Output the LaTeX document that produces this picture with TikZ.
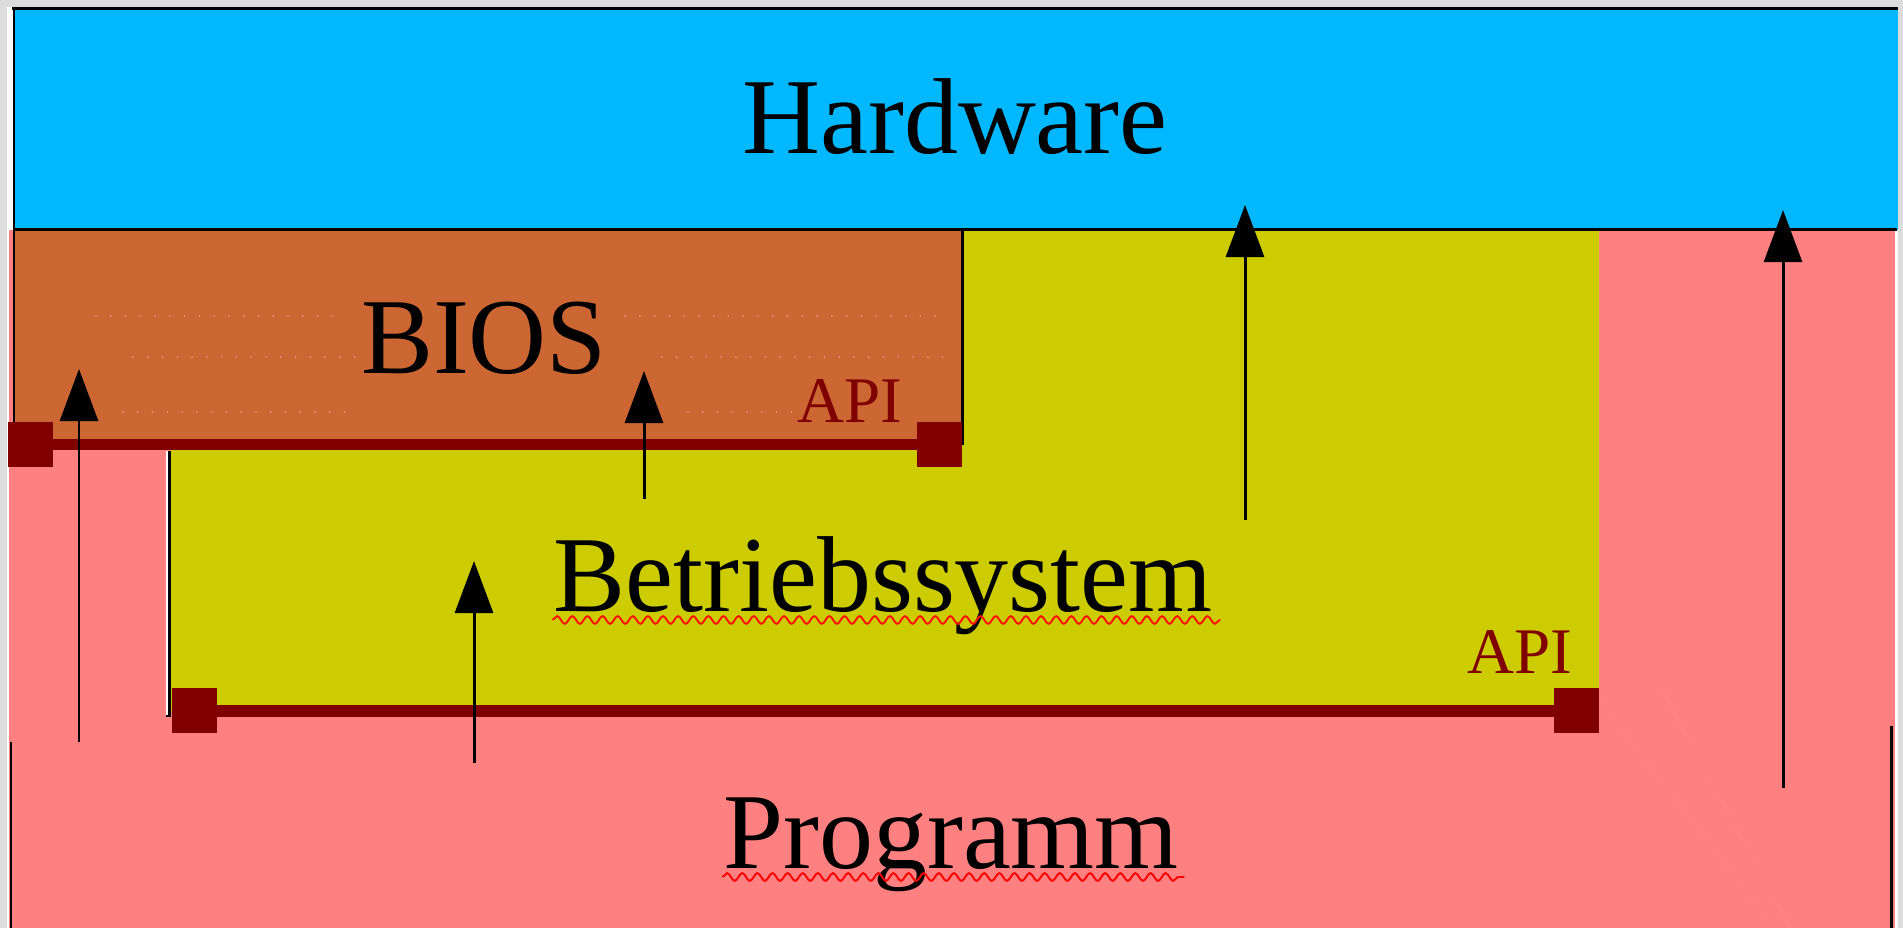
\documentclass[tikz,border=0pt]{standalone}
\usepackage{fontspec}
\setmainfont{Liberation Serif}
\usetikzlibrary{arrows.meta,decorations.pathmorphing}

\definecolor{hwblue}{RGB}{0,184,255}
\definecolor{biosbrown}{RGB}{204,102,51}
\definecolor{osyellow}{RGB}{204,204,0}
\definecolor{progpink}{RGB}{255,128,128}
\definecolor{apired}{RGB}{128,0,0}
\definecolor{framegrey}{RGB}{220,220,220}
\definecolor{dotpink}{RGB}{232,140,130}

\begin{document}
\begin{tikzpicture}[x=0.01cm, y=-0.01cm,
    bigtext/.style={anchor=base, inner sep=0pt, font=\fontsize{30.7}{36}\selectfont},
    apitext/.style={anchor=base, inner sep=0pt, text=apired, font=\fontsize{18.5}{22}\selectfont},
    edge/.style={line width=0.85pt, black},
    apiline/.style={line width=3.4pt, apired},
    callarrow/.style={line width=0.85pt, -{Triangle[length=14.8pt, width=10.8pt]}},
    spell/.style={red, line width=0.55pt, decorate,
      decoration={snake, amplitude=1.1pt, segment length=4.3pt}},
    faint/.style={dotpink, line width=0.6pt, line cap=round, dash pattern=on 0pt off 4.2pt}]
    \useasboundingbox (0,0) rectangle (1903,928);
    \fill[framegrey] (0,0) rectangle (1903,928);
    \fill[white] (7,7) rectangle (1898,928);

    % Schichten
    \fill[progpink] (9,230) rectangle (1895,928);
    \fill[hwblue] (14,9) rectangle (1898,230);
    \fill[osyellow] (170,230) rectangle (1599,711);
    \fill[biosbrown] (14,231) rectangle (962,444);
    \draw[faint] (96,316) -- (345,316) (625,316) -- (938,316);
    \draw[faint] (133,357) -- (355,357) (662,357) -- (950,357);
    \draw[faint] (123,412) -- (355,412) (688,412) -- (797,412);
    \draw[progpink!97!white, line width=0.4pt] (1600,700) -- (1773,928) (1660,686) -- (1790,928);

    \draw[edge] (12,8.5) -- (1898,8.5);
    \draw[edge] (14,8) -- (14,422);
    \draw[edge] (14,230) -- (1897,230);
    \draw[edge] (962,230) -- (962,445);
    \draw[white, line width=0.6pt] (167.5,451) -- (167.5,716);
    \draw[edge] (169.5,451) -- (169.5,716) -- (166,716);
    \draw[edge] (11,742) -- (11,928);
    \draw[edge] (1891,726) -- (1891,928);

    % API-Leisten
    \draw[apiline] (8,444.5) -- (962,444.5);
    \draw[apiline] (172,711) -- (1599,711);
    \foreach \x/\y in {8/422, 917/422, 172/688, 1554/688}
      \fill[apired] (\x,\y) rectangle ++(45,45);

    % Aufrufe
    \foreach \n/\x/\ya/\yb in {1/79/742/369, 2/644/499/371, 3/1245/520/205,
                                4/1783/788/210, 5/474/763/561} {
      \coordinate (from\n) at (\x,\ya);
      \coordinate (to\n) at (\x,\yb);
      \draw[callarrow] (from\n) -- (to\n);
    }

    \node[bigtext] (hw) at (955,154) {Hardware};
    \node[bigtext] (bios) at (484,374) {BIOS};
    \node[bigtext] (os) at (883,612) {Betriebssystem};
    \node[bigtext] (prog) at (951,868) {Programm};
    \node[apitext] (api1) at (850,423) {API};
    \node[apitext] (api2) at (1520,673) {API};

    \draw[spell, red!85!orange] (os.base west) ++(0,8) -- ++(668,0);
    \draw[spell] (prog.base west) ++(0,9) -- ++(462,0);
\end{tikzpicture}
\end{document}
